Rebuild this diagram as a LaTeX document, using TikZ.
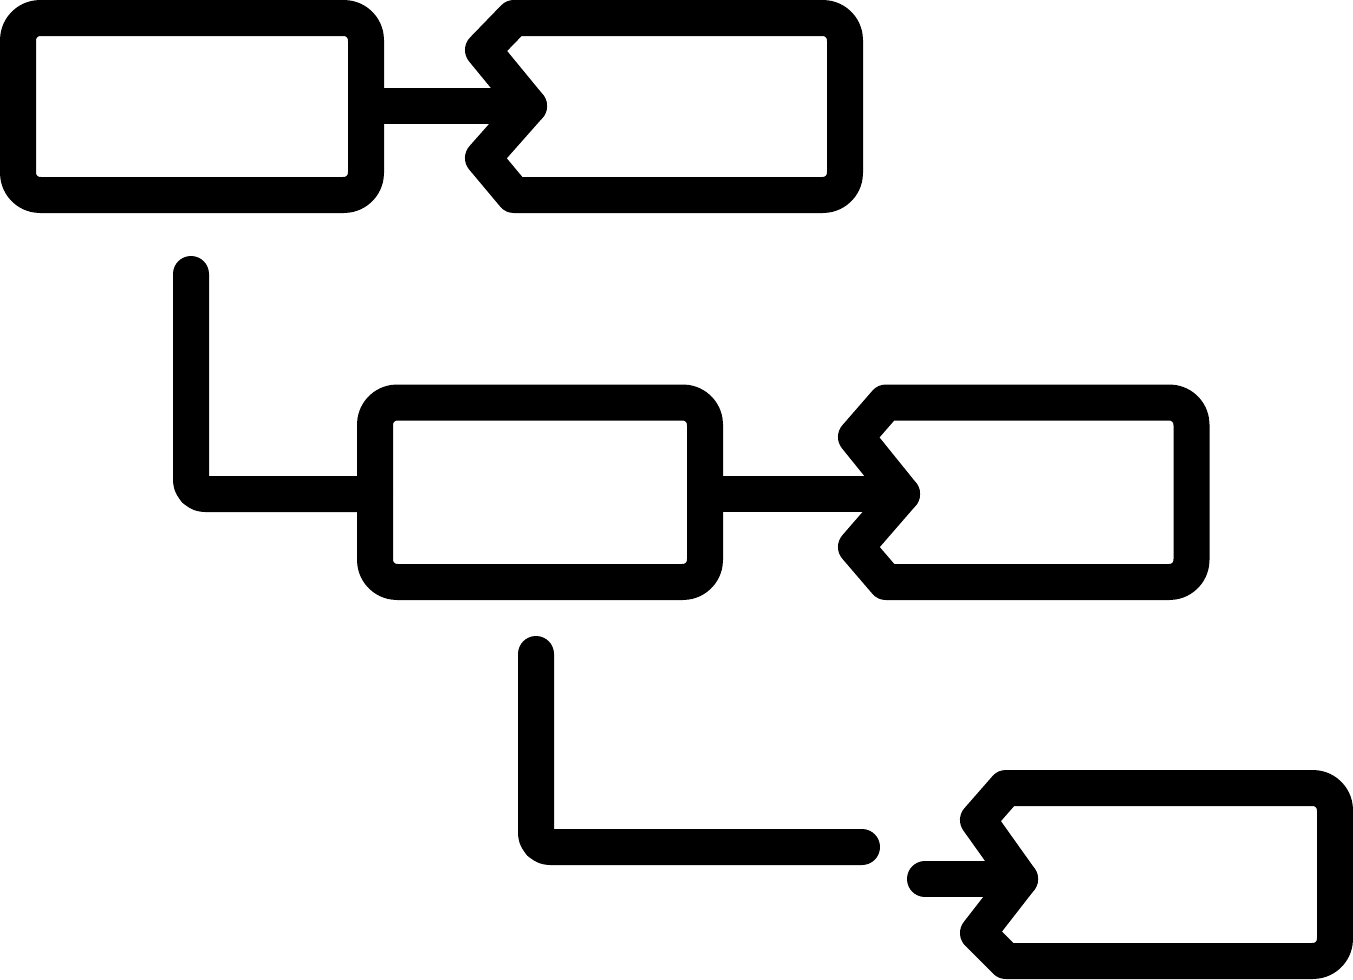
\documentclass[tikz,border=0pt]{standalone}
\begin{document}
\begin{tikzpicture}[x=1pt,y=-1pt,
  stroke/.style={draw=black,line width=36pt,line join=round,line cap=round},
  boxround/.style={stroke,rounded corners=22pt}]
\useasboundingbox (0,0) rectangle (1353,980);
% named points
\coordinate (b1e) at (366,106);
\coordinate (t2) at (529,106);
\coordinate (b3w) at (375,494);
\coordinate (b3e) at (705,494);
\coordinate (t4) at (902,494);
\coordinate (t5) at (1020,879);
\coordinate (l1top) at (191,274);
\coordinate (l1c) at (191,494);
\coordinate (l2top) at (536,654);
\coordinate (l2c) at (536,847);
\coordinate (l2end) at (862,847);
\coordinate (s5) at (925,879);
% box 1 and box 3
\draw[boxround] (18,18) rectangle (366,195);
\draw[boxround] (375,402.5) rectangle (705,582);
% box 2 (tag)
\draw[stroke] (514,18) [rounded corners=22pt] -- (845,18) -- (845,195) [sharp corners] -- (514,195) -- (483,158) -- (t2) -- (483,50) -- cycle;
% box 4 (tag)
\draw[stroke] (886,402.5) [rounded corners=22pt] -- (1191.5,402.5) -- (1191.5,582) [sharp corners] -- (886,582) -- (856,547) -- (t4) -- (856,437) -- cycle;
% box 5 (tag)
\draw[stroke] (1006,788) [rounded corners=22pt] -- (1335,788) -- (1335,961) [sharp corners] -- (1006,961) -- (978,933) -- (t5) -- (978,820) -- cycle;
% connectors
\draw[stroke] (b1e) -- (t2);
\draw[stroke] (b3e) -- (t4);
\draw[stroke,rounded corners=14pt] (l1top) -- (l1c) -- (b3w);
\draw[stroke,rounded corners=14pt] (l2top) -- (l2c) -- (l2end);
\draw[stroke] (s5) -- (t5);
\end{tikzpicture}
\end{document}
